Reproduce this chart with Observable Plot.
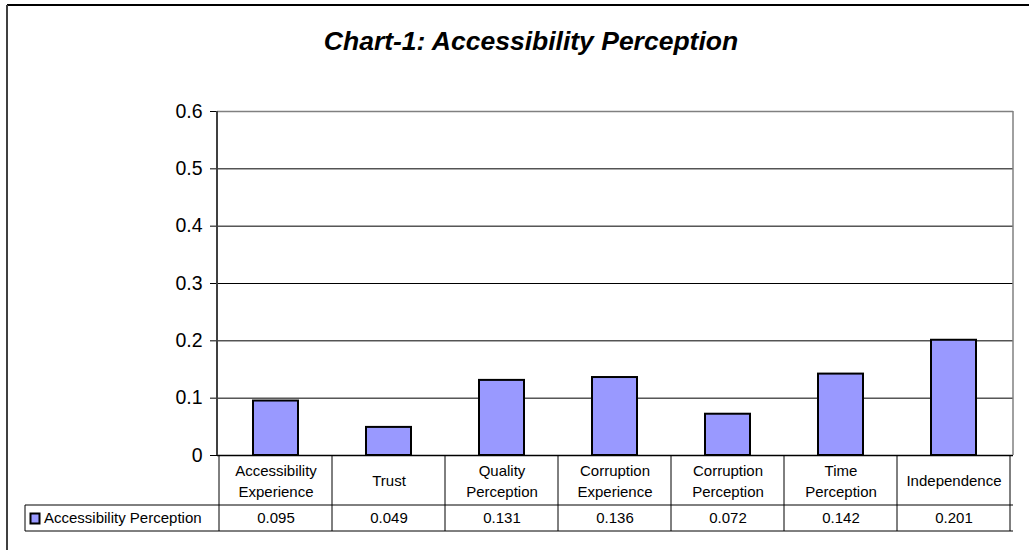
<!DOCTYPE html>
<html>
<head>
<meta charset="utf-8">
<script src="https://cdn.jsdelivr.net/npm/d3@7"></script>
<script src="https://cdn.jsdelivr.net/npm/@observablehq/plot@0.6"></script>
<style>
  html, body { margin: 0; padding: 0; background: #fff; }
  #chart { position: relative; width: 1029px; height: 550px; overflow: hidden; }
  svg { font-family: Arial, "Liberation Sans", sans-serif; }
</style>
</head>
<body>
<div id="chart"></div>
<script>
const categories = ["Accessibility\nExperience", "Trust", "Quality\nPerception", "Corruption\nExperience", "Corruption\nPerception", "Time\nPerception", "Independence"];
const values = [0.095, 0.049, 0.131, 0.136, 0.072, 0.142, 0.201];
const valueLabels = ["0.095", "0.049", "0.131", "0.136", "0.072", "0.142", "0.201"];
const yTicks = [0, 0.1, 0.2, 0.3, 0.4, 0.5, 0.6];
const seriesName = "Accessibility Perception";
const titleText = "Chart-1: Accessibility Perception";

const data = categories.map((c, i) => ({cat: c, value: values[i], label: valueLabels[i]}));

const W = 1029, H = 550;
const mL = 217, mR = 16, mT = 111, mB = 95;

const plot = Plot.plot({
  width: W,
  height: H,
  marginLeft: mL,
  marginRight: mR,
  marginTop: mT,
  marginBottom: mB,
  style: {fontFamily: 'Arial, "Liberation Sans", sans-serif', background: "#fff", overflow: "visible"},
  x: {domain: categories, paddingInner: 0.6, paddingOuter: 0.3, axis: null},
  y: {domain: [0, 0.6], axis: null},
  marks: [
    Plot.ruleY(yTicks.slice(1, -1), {stroke: "#000", strokeWidth: 1}),
    Plot.ruleY([yTicks[yTicks.length - 1]], {stroke: "#808080", strokeWidth: 1.5}),
    Plot.barY(data, {x: "cat", y: "value", fill: "#9999ff", stroke: "#000", strokeWidth: 2}),
    Plot.ruleY([0], {stroke: "#000", strokeWidth: 1.5}),
    Plot.axisY({ticks: yTicks, tickFormat: d => String(d), tickSize: 7, tickPadding: 8, fontSize: 19.5, stroke: "#000", fill: "#000", label: null}),
    Plot.text(data, {x: "cat", text: "cat", frameAnchor: "bottom", dy: 24, lineAnchor: "middle", lineHeight: 1.4, fontSize: 15, fill: "#000"}),
    Plot.text(data, {x: "cat", text: "label", frameAnchor: "bottom", dy: 63, lineAnchor: "middle", fontSize: 15, fill: "#000"})
  ]
});

document.getElementById("chart").appendChild(plot);

const svg = d3.select(plot);
const xs = plot.scale("x");
const step = xs.step;
const bw = xs.bandwidth;
const yBase = H - mB;
const rowSplit = yBase + 50;
const rowBottom = yBase + 76;

const g = svg.append("g");
// plot area borders
g.append("line").attr("x1", mL).attr("x2", mL).attr("y1", mT).attr("y2", yBase).attr("stroke", "#404040").attr("stroke-width", 2);
g.append("line").attr("x1", W - mR).attr("x2", W - mR).attr("y1", mT).attr("y2", yBase).attr("stroke", "#808080").attr("stroke-width", 1.5);

// data table lines
categories.forEach((c, i) => {
  const cx = xs.apply(c) + bw / 2;
  const left = cx - step / 2;
  g.append("line").attr("x1", left).attr("x2", left).attr("y1", yBase).attr("y2", rowBottom).attr("stroke", "#000").attr("stroke-width", 1);
  if (i === categories.length - 1) {
    const right = cx + step / 2;
    g.append("line").attr("x1", right).attr("x2", right).attr("y1", yBase).attr("y2", rowBottom).attr("stroke", "#000").attr("stroke-width", 1);
  }
});
g.append("line").attr("x1", 25).attr("x2", W - mR).attr("y1", rowSplit).attr("y2", rowSplit).attr("stroke", "#000").attr("stroke-width", 1);
g.append("line").attr("x1", 25).attr("x2", W - mR).attr("y1", rowBottom).attr("y2", rowBottom).attr("stroke", "#000").attr("stroke-width", 1);
g.append("line").attr("x1", 25).attr("x2", 25).attr("y1", rowSplit).attr("y2", rowBottom).attr("stroke", "#000").attr("stroke-width", 1);

// legend key
g.append("rect").attr("x", 30.5).attr("y", 513.5).attr("width", 9).attr("height", 10).attr("fill", "#9999ff").attr("stroke", "#000").attr("stroke-width", 2);
g.append("text").attr("x", 44).attr("y", (rowSplit + rowBottom) / 2).attr("dy", "0.35em").attr("text-anchor", "start").attr("font-size", 15).attr("fill", "#000").text(seriesName);

// outer frame
g.append("line").attr("x1", 7).attr("x2", W).attr("y1", 5).attr("y2", 5).attr("stroke", "#000").attr("stroke-width", 2);
g.append("line").attr("x1", 7).attr("x2", 7).attr("y1", 5).attr("y2", H).attr("stroke", "#404040").attr("stroke-width", 2);

// title
g.append("text").attr("x", 531).attr("y", 50).attr("text-anchor", "middle").attr("font-size", 26.5).attr("font-weight", "bold").attr("font-style", "italic").attr("fill", "#000").text(titleText);
</script>
</body>
</html>
